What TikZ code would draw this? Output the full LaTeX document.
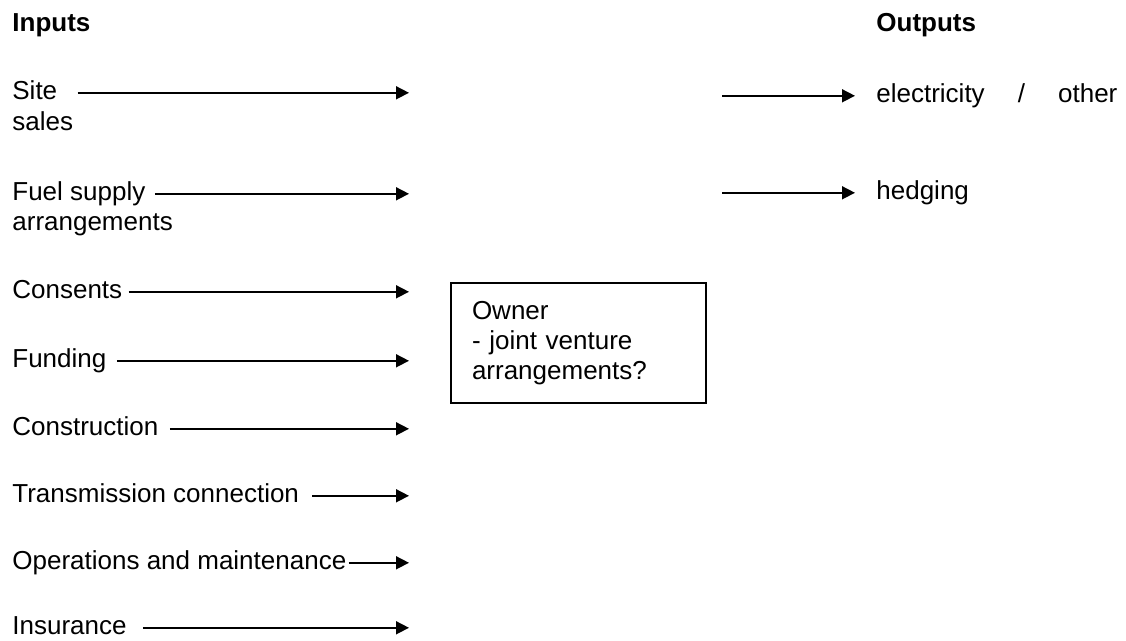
\documentclass[tikz,border=0pt]{standalone}
\usepackage{fontspec}
\setmainfont{Liberation Sans}
\usetikzlibrary{arrows.meta}
\newcommand{\labelfont}{\fontsize{13pt}{15pt}\selectfont}
\tikzset{
  inlabel/.style={anchor=base west, inner sep=0pt, text height=0.72em, text depth=0pt, font=\labelfont},
  heading/.style={inlabel, font=\labelfont\bfseries},
  flow/.style={-{Triangle[length=6.5pt,width=6.5pt]}, line width=0.8pt},
  ownerbox/.style={draw, line width=0.6pt, minimum width=127.5pt, minimum height=60pt,
    inner xsep=10.5pt, align=left, text width=106.5pt, font=\labelfont},
}
\begin{document}
\begin{tikzpicture}[x=0.5pt,y=-0.5pt]
    \useasboundingbox (0,0) rectangle (1126,641);

    % Headings
    \node[heading] (inputs) at (12,32) {Inputs};
    \node[heading] (outputs) at (876,32) {Outputs};

    % Inputs with arrows into the middle
    \coordinate (tipx) at (409,0);
    \foreach \name/\txt/\y/\g in {site/Site/100/10, fuel/Fuel supply/201/4.5,
                                 consents/Consents/299/3, funding/Funding/368/5,
                                 construction/Construction/436/5.5,
                                 transmission/Transmission connection/503/6.5,
                                 operations/Operations and maintenance/570/1,
                                 insurance/Insurance/635/8} {
        \node[inlabel] (\name) at (12,\y) {\txt};
        \draw[flow] ([xshift=\g pt]\name.east) -- (\name.east -| tipx);
    }
    \node[inlabel] (sales) at (12,131) {sales};
    \node[inlabel] (fuelarr) at (12,231) {arrangements};

    % Owner box
    \node[ownerbox] (owner) at (578.5,343) {Owner\\- joint venture\\arrangements?};

    % Outputs
    \coordinate (outx) at (722,0);
    \node[inlabel] (elec) at (876,103) {\makebox[120.5pt][s]{electricity / other}};
    \node[inlabel] (hedging) at (876,200) {hedging};
    \draw[flow] (elec.west -| outx) -- ([xshift=-10.5pt]elec.west);
    \draw[flow] (hedging.west -| outx) -- ([xshift=-10.5pt]hedging.west);
\end{tikzpicture}
\end{document}
